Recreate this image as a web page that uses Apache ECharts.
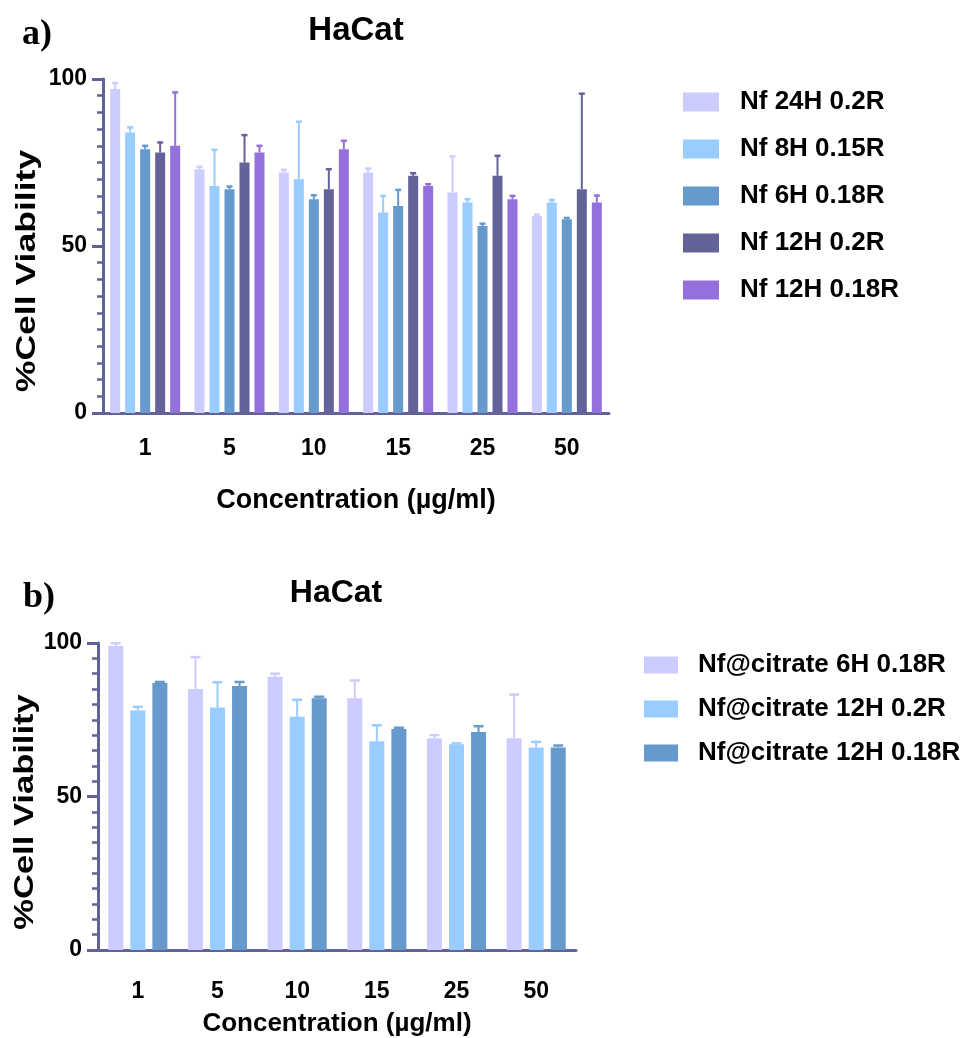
<!DOCTYPE html>
<html><head><meta charset="utf-8">
<script src="https://cdn.jsdelivr.net/npm/echarts@6/dist/echarts.min.js"></script>
<style>html,body{margin:0;padding:0;background:#fff}#c{width:963px;height:1038px}</style>
</head><body><div id="c"></div>
<script>
// ---------- data ----------
const categories = ['1', '5', '10', '15', '25', '50'];
const yTicks = [0, 50, 100];

// Panel a
const namesA = ['Nf 24H 0.2R', 'Nf 8H 0.15R', 'Nf 6H 0.18R', 'Nf 12H 0.2R', 'Nf 12H 0.18R'];
const nf24H_02R   = [97, 73, 72, 72, 66, 59];
const nf24H_02R_sd = [1.8, 0.7, 0.8, 1.2, 10.8, 0.4];
const nf8H_015R   = [84, 68, 70, 60, 63, 63];
const nf8H_015R_sd = [1.5, 10.8, 17.2, 5.0, 1.0, 0.8];
const nf6H_018R   = [79, 67, 64, 62, 56, 58];
const nf6H_018R_sd = [1.0, 0.8, 1.2, 4.8, 0.7, 0.4];
const nf12H_02R   = [78, 75, 67, 71, 71, 67];
const nf12H_02R_sd = [3.0, 8.2, 6.0, 0.8, 6.0, 28.6];
const nf12H_018R  = [80, 78, 79, 68, 64, 63];
const nf12H_018R_sd = [16.0, 2.0, 2.5, 0.5, 1.0, 2.1];

// Panel b
const namesB = ['Nf@citrate 6H 0.18R', 'Nf@citrate 12H 0.2R', 'Nf@citrate 12H 0.18R'];
const cit6H_018R   = [99, 85, 89, 82, 69, 69];
const cit6H_018R_sd = [0.9, 10.4, 1.0, 5.8, 1.0, 14.2];
const cit12H_02R   = [78, 79, 76, 68, 67, 66];
const cit12H_02R_sd = [1.2, 8.2, 5.5, 5.2, 0.3, 1.8];
const cit12H_018R  = [87, 86, 82, 72, 71, 66];
const cit12H_018R_sd = [0.3, 1.3, 0.5, 0.4, 1.9, 0.6];

const xTitle = 'Concentration (µg/ml)';
const yTitle = '%Cell Viability';

// ---------- styling ----------
const colorsA = ['#CCCCFF', '#99CCFF', '#6699CC', '#636399', '#9370DB'];
const colorsB = ['#CCCCFF', '#99CCFF', '#6699CC'];
const axisColor = '#62629a';
const FONT = '"Liberation Sans", Arial, sans-serif';
const SERIF = '"Liberation Serif", "Times New Roman", serif';

const meansA = [nf24H_02R, nf8H_015R, nf6H_018R, nf12H_02R, nf12H_018R];
const sdsA = [nf24H_02R_sd, nf8H_015R_sd, nf6H_018R_sd, nf12H_02R_sd, nf12H_018R_sd];
const meansB = [cit6H_018R, cit12H_02R, cit12H_018R];
const sdsB = [cit6H_018R_sd, cit12H_02R_sd, cit12H_018R_sd];

function errRender(idx, count, bw, gapRatio, color, capW) {
  return function (params, api) {
    const x = api.value(0);
    const p0 = api.coord([x, api.value(1)]);
    const p1 = api.coord([x, api.value(2)]);
    const off = (idx - (count - 1) / 2) * bw * (1 + gapRatio);
    const cx = p0[0] + off;
    return {
      type: 'group',
      children: [
        { type: 'line', shape: { x1: cx, y1: p0[1], x2: cx, y2: p1[1] }, style: { stroke: color, lineWidth: 2 } },
        { type: 'line', shape: { x1: cx - capW / 2, y1: p1[1], x2: cx + capW / 2, y2: p1[1] }, style: { stroke: color, lineWidth: 2.5 } }
      ]
    };
  };
}

function xAxisCfg(gi, margin, nameGap, nameSize) {
  return {
    type: 'category', gridIndex: gi, data: categories,
    axisLine: { lineStyle: { color: axisColor, width: 3 } },
    axisTick: { alignWithLabel: true, length: 13, lineStyle: { color: axisColor, width: 3 } },
    axisLabel: { color: '#000', fontSize: 23, fontWeight: 'bold', fontFamily: FONT, margin: margin },
    name: xTitle, nameLocation: 'middle', nameGap: nameGap,
    nameTextStyle: { color: '#000', fontSize: nameSize, fontWeight: 'bold', fontFamily: FONT, verticalAlign: 'top' }
  };
}
function yAxisCfg(gi) {
  return {
    type: 'value', gridIndex: gi, min: 0, max: 100, interval: 50,
    axisLine: { show: true, lineStyle: { color: axisColor, width: 3 } },
    axisTick: { show: true, length: 11, lineStyle: { color: axisColor, width: 3 } },
    minorTick: { show: true, splitNumber: 10, length: 6, lineStyle: { color: axisColor, width: 2.5 } },
    splitLine: { show: false }, minorSplitLine: { show: false },
    axisLabel: { color: '#000', fontSize: 23, fontWeight: 'bold', fontFamily: FONT, margin: 16,
      formatter: v => (yTicks.indexOf(v) >= 0 ? String(v) : '') }
  };
}

const series = [];
meansA.forEach((m, i) => {
  series.push({ type: 'bar', name: namesA[i], xAxisIndex: 0, yAxisIndex: 0, data: m,
    barWidth: 10, barGap: '50%', itemStyle: { color: colorsA[i] }, z: 2 });
});
meansA.forEach((m, i) => {
  series.push({ type: 'custom', name: 'errA' + i, xAxisIndex: 0, yAxisIndex: 0,
    data: m.map((v, k) => [k, v, v + sdsA[i][k]]), encode: { x: 0, y: [1, 2] },
    renderItem: errRender(i, meansA.length, 10, 0.5, colorsA[i], 6), z: 3, silent: true });
});
meansB.forEach((m, i) => {
  series.push({ type: 'bar', name: namesB[i], xAxisIndex: 1, yAxisIndex: 1, data: m,
    barWidth: 15, barGap: '47%', itemStyle: { color: colorsB[i] }, z: 2 });
});
meansB.forEach((m, i) => {
  series.push({ type: 'custom', name: 'errB' + i, xAxisIndex: 1, yAxisIndex: 1,
    data: m.map((v, k) => [k, v, v + sdsB[i][k]]), encode: { x: 0, y: [1, 2] },
    renderItem: errRender(i, meansB.length, 15, 0.47, colorsB[i], 10), z: 3, silent: true });
});

const option = {
  animation: false,
  backgroundColor: '#fff',
  title: [
    { text: 'a)', left: 17, top: 12, textStyle: { fontFamily: SERIF, fontWeight: 'bold', fontSize: 36, color: '#000' } },
    { text: 'HaCat', left: 351, top: 9, textAlign: 'center', textStyle: { fontFamily: FONT, fontWeight: 'bold', fontSize: 33, color: '#000' } },
    { text: 'b)', left: 18, top: 575, textStyle: { fontFamily: SERIF, fontWeight: 'bold', fontSize: 36, color: '#000' } },
    { text: 'HaCat', left: 331, top: 572, textAlign: 'center', textStyle: { fontFamily: FONT, fontWeight: 'bold', fontSize: 32, color: '#000' } }
  ],
  graphic: [
    { type: 'text', x: 27, y: 271, rotation: Math.PI / 2, scaleX: 1.27, scaleY: 1,
      style: { text: yTitle, fontFamily: FONT, fontWeight: 'bold', fontSize: 28, fill: '#000', align: 'center', verticalAlign: 'middle' } },
    { type: 'text', x: 26, y: 812, rotation: Math.PI / 2, scaleX: 1.28, scaleY: 1,
      style: { text: yTitle, fontFamily: FONT, fontWeight: 'bold', fontSize: 27, fill: '#000', align: 'center', verticalAlign: 'middle' } }
  ],
  legend: [
    { data: namesA, orient: 'vertical', left: 678, top: 84, itemWidth: 36, itemHeight: 19, itemGap: 21,
      icon: 'rect', selectedMode: false,
      textStyle: { fontFamily: FONT, fontWeight: 'bold', fontSize: 26, color: '#000', padding: [0, 0, 0, 16] } },
    { data: namesB, orient: 'vertical', left: 639, top: 647, itemWidth: 34, itemHeight: 17, itemGap: 18,
      icon: 'rect', selectedMode: false,
      textStyle: { fontFamily: FONT, fontWeight: 'bold', fontSize: 26, color: '#000', padding: [0, 0, 0, 15] } }
  ],
  grid: [
    { left: 103, top: 79, width: 506, height: 334 },
    { left: 98, top: 643, width: 478, height: 312 }
  ],
  xAxis: [xAxisCfg(0, 24, 74, 27), xAxisCfg(1, 30, 61, 26)],
  yAxis: [yAxisCfg(0), yAxisCfg(1)],
  series: series
};

const chart = echarts.init(document.getElementById('c'), null, { renderer: 'canvas' });
chart.setOption(option);
</script>
</body></html>
